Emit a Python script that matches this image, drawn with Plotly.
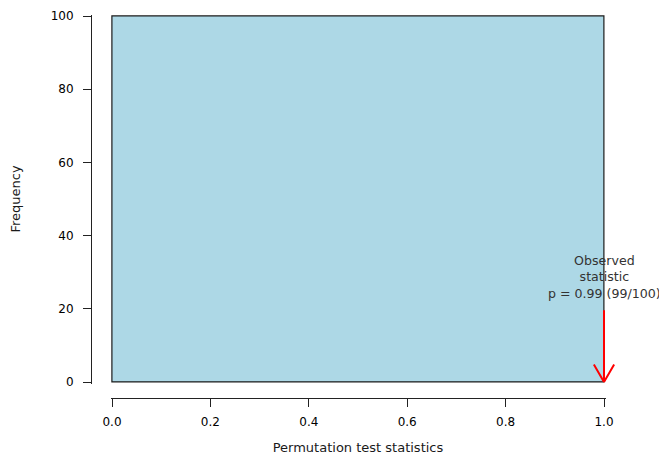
import plotly.graph_objects as go

# Data
bin_left = [0.0]
bin_right = [1.0]
counts = [100]
observed_stat = 1.0
arrow_top = 20
p_label = "Observed<br>statistic<br>p = 0.99 (99/100)"
x_ticks = [0.0, 0.2, 0.4, 0.6, 0.8, 1.0]
y_ticks = [0, 20, 40, 60, 80, 100]

# page body has an 8px default margin; size the figure so it fills the window
OFF = 8
W, H = 667 - OFF, 455 - OFF
ML, MR, MT, MB = 70, 12, 2, 42
PW, PH = W - ML - MR, H - MT - MB

def fx(px):
    return (px - OFF - ML) / PW

def fy(py):
    return (H - MB - (py - OFF)) / PH

PAD = 1.5  # px of breathing room so the bar outline is not clipped
X0P, X1P = 112, 604   # pixel positions of x = 0 and x = 1
Y0P, Y1P = 382, 16    # pixel positions of y = 0 and y = 100
xdom = [fx(X0P - PAD), fx(X1P + PAD)]
ydom = [fy(Y0P + PAD), fy(Y1P - PAD)]
xpx = (1.0 - 0.0) / (X1P - X0P)
ypx = (100 - 0) / (Y0P - Y1P)
xr = [0 - PAD * xpx, 1 + PAD * xpx]
yr = [0 - PAD * ypx, 100 + PAD * ypx]

centers = [(a + b) / 2 for a, b in zip(bin_left, bin_right)]
widths = [b - a for a, b in zip(bin_left, bin_right)]

fig = go.Figure()
fig.add_trace(go.Bar(
    x=centers, y=counts, width=widths,
    marker=dict(color="#ADD8E6", line=dict(color="#1a1a1a", width=1.2)),
    hoverinfo="skip", showlegend=False,
))

# arrow (R-style open head), head size given in pixels
hx = 11 * xpx
hy = 19 * ypx
red = "#FF0000"
segments = [
    (observed_stat, arrow_top, observed_stat, 0),
    (observed_stat - hx, hy, observed_stat, 0),
    (observed_stat + hx, hy, observed_stat, 0),
]
for x0, y0, x1, y1 in segments:
    fig.add_annotation(
        x=x1, y=y1, ax=x0, ay=y0, xref="x", yref="y", axref="x", ayref="y",
        showarrow=True, arrowhead=0, arrowwidth=2, arrowcolor=red,
        standoff=0, startstandoff=0, text="",
    )

fig.add_annotation(
    x=observed_stat, y=arrow_top, xref="x", yref="y",
    text=p_label, showarrow=False, yanchor="bottom", yshift=6,
    font=dict(family="DejaVu Sans", size=12.6, color="#333333"),
)

axis_font = dict(family="DejaVu Sans", size=12, color="#000000")
title_font = dict(family="DejaVu Sans", size=13, color="#1a1a1a")
fig.update_layout(
    width=W, height=H,
    margin=dict(l=ML, r=MR, t=MT, b=MB, autoexpand=False),
    plot_bgcolor="white", paper_bgcolor="white",
    bargap=0,
    xaxis=dict(
        domain=xdom, range=xr, anchor="free", position=fy(398),
        tickvals=x_ticks, tickformat=".1f", ticks="outside", ticklen=8,
        tickwidth=1, tickcolor="#222222", ticklabelstandoff=5,
        showline=True, linecolor="#222222", linewidth=1,
        showgrid=False, zeroline=False, tickfont=axis_font,
        title=dict(text="Permutation test statistics", font=title_font, standoff=16),
        automargin=False,
    ),
    yaxis=dict(
        domain=ydom, range=yr, anchor="free", position=fx(91),
        tickvals=y_ticks, ticks="outside", ticklen=8,
        tickwidth=1, tickcolor="#222222", ticklabelstandoff=7,
        showline=True, linecolor="#222222", linewidth=1,
        showgrid=False, zeroline=False, tickfont=axis_font,
        title=dict(text="Frequency", font=title_font, standoff=26),
        automargin=False,
    ),
)

fig.write_html("out.html")
